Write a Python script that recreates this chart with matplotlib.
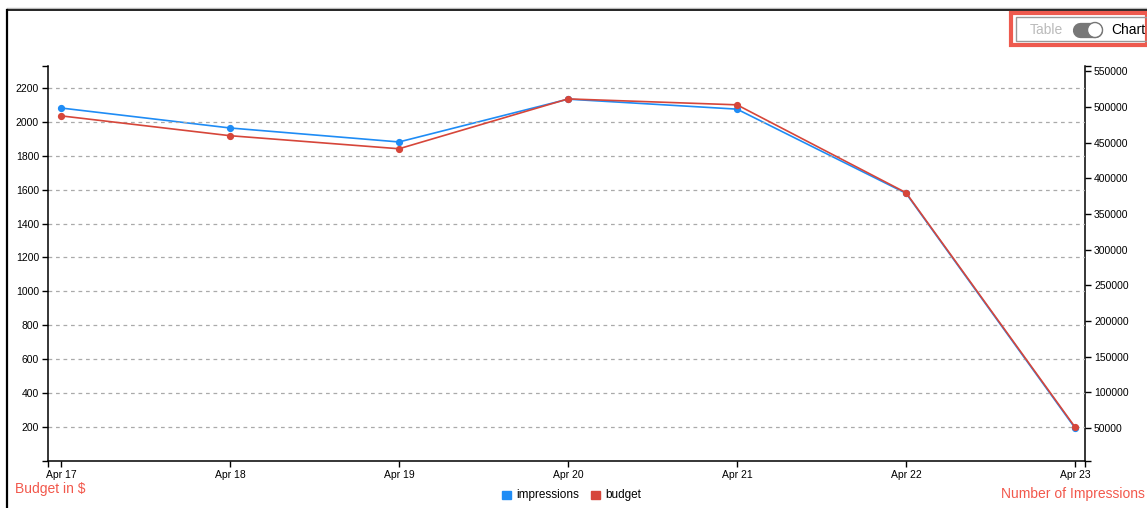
import matplotlib
matplotlib.use("Agg")
import matplotlib.pyplot as plt
from matplotlib.patches import Rectangle, Ellipse
from matplotlib.lines import Line2D

plt.rcParams['font.family'] = ['Liberation Sans', 'DejaVu Sans']

dates = ["Apr 17", "Apr 18", "Apr 19", "Apr 20", "Apr 21", "Apr 22", "Apr 23"]
budget = [2035, 1918, 1841, 2135, 2100, 1582, 200]
impressions = [498600, 470600, 451000, 511000, 497000, 379000, 50000]
budget_ticks = [200, 400, 600, 800, 1000, 1200, 1400, 1600, 1800, 2000, 2200]
impr_ticks = [50000, 100000, 150000, 200000, 250000, 300000, 350000,
              400000, 450000, 500000, 550000]

BLUE = "#1f8cf5"
RED = "#d6463a"
LABEL_RED = "#f2584c"

W, H = 1147, 508
fig = plt.figure(figsize=(W / 100, H / 100), dpi=100)

def fx(px):
    return px / W

def fy(py):
    return 1 - py / H

x0, x1, ytop, ybot = 48, 1085, 66, 461
axL = fig.add_axes([fx(x0), fy(ybot), fx(x1) - fx(x0), fy(ytop) - fy(ybot)])
axR = axL.twinx()
axL.set_zorder(axR.get_zorder() + 1)
axL.patch.set_visible(False)

xs = list(range(len(dates)))
axR.plot(xs, impressions, color=BLUE, lw=1.2, marker='o', ms=4.2, mec=BLUE, zorder=3)
axL.plot(xs, budget, color=RED, lw=1.2, marker='o', ms=4.2, mec=RED, zorder=3)

XL = (-0.077, 6.059)
YL = (0, 2329)
YR = (3740, 557480)
axL.set_xlim(*XL)
axL.set_ylim(*YL)
axR.set_ylim(*YR)

axL.set_xticks(xs)
axL.set_xticklabels(dates)
axL.set_yticks(budget_ticks)
axR.set_yticks(impr_ticks)

axL.grid(axis='y', color='#aaaaaa', ls=(0, (3, 3)), lw=0.9)
axL.set_axisbelow(True)

for ax in (axL, axR):
    ax.spines['top'].set_visible(False)
    for s in ax.spines.values():
        s.set_linewidth(1.1)
        s.set_color('black')
    ax.tick_params(labelsize=7.5, length=4.5, width=1, color='black', pad=2)
axL.spines['right'].set_visible(False)
axR.spines['left'].set_visible(False)
axR.spines['bottom'].set_visible(False)

# outer (domain-end) ticks
axL.set_xticks(list(XL), minor=True)
axL.tick_params(axis='x', which='minor', length=4.5, width=1)
axL.set_yticks(list(YL), minor=True)
axL.tick_params(axis='y', which='minor', length=4.5, width=1)
axR.set_yticks(list(YR), minor=True)
axR.tick_params(axis='y', which='minor', length=4.5, width=1)

# axis captions
fig.text(fx(15), fy(489), "Budget in $", color=LABEL_RED, fontsize=10, va='center', ha='left')
fig.text(fx(1145), fy(494), "Number of Impressions", color=LABEL_RED, fontsize=10, va='center', ha='right')

# legend
fig.patches.append(Rectangle((fx(502), fy(499)), fx(9), fy(491) - fy(499), color=BLUE, transform=fig.transFigure))
fig.text(fx(516), fy(495), "impressions", fontsize=8.5, va='center', ha='left')
fig.patches.append(Rectangle((fx(591), fy(499)), fx(9), fy(491) - fy(499), color=RED, transform=fig.transFigure))
fig.text(fx(605), fy(495), "budget", fontsize=8.5, va='center', ha='left')

# page frame
fig.add_artist(Line2D([fx(7), fx(1147)], [fy(8), fy(8)], color='#bbbbbb', lw=1))
fig.add_artist(Line2D([fx(7), fx(1147)], [fy(9.5), fy(9.5)], color='black', lw=1.2))
fig.add_artist(Line2D([fx(7.5), fx(7.5)], [fy(9.5), 0], color='black', lw=1.6))

# toggle widget
fig.add_artist(Rectangle((fx(1011), fy(45)), fx(1147) - fx(1011), fy(13) - fy(45),
                         fill=False, ec='#ee5a4e', lw=3, transform=fig.transFigure, zorder=3))
fig.add_artist(Rectangle((fx(1016), fy(41)), fx(1147) - fx(1016), fy(17) - fy(41),
                         fill=False, ec='#999999', lw=1, transform=fig.transFigure, zorder=3))
fig.text(fx(1030), fy(30), "Table", fontsize=10, color='#bbbbbb', va='center', ha='left')
fig.add_artist(Line2D([fx(1080), fx(1095)], [fy(30), fy(30)], color='#777777',
                      lw=11, solid_capstyle='round', zorder=4))
fig.add_artist(Ellipse((fx(1095), fy(30)), 15 / W, 15 / H,
                       fc='white', ec='#777777', lw=1, transform=fig.transFigure, zorder=5))
fig.text(fx(1111), fy(30), "Chart", fontsize=10, color='black', va='center', ha='left')

fig.savefig("out.png", dpi=100)
